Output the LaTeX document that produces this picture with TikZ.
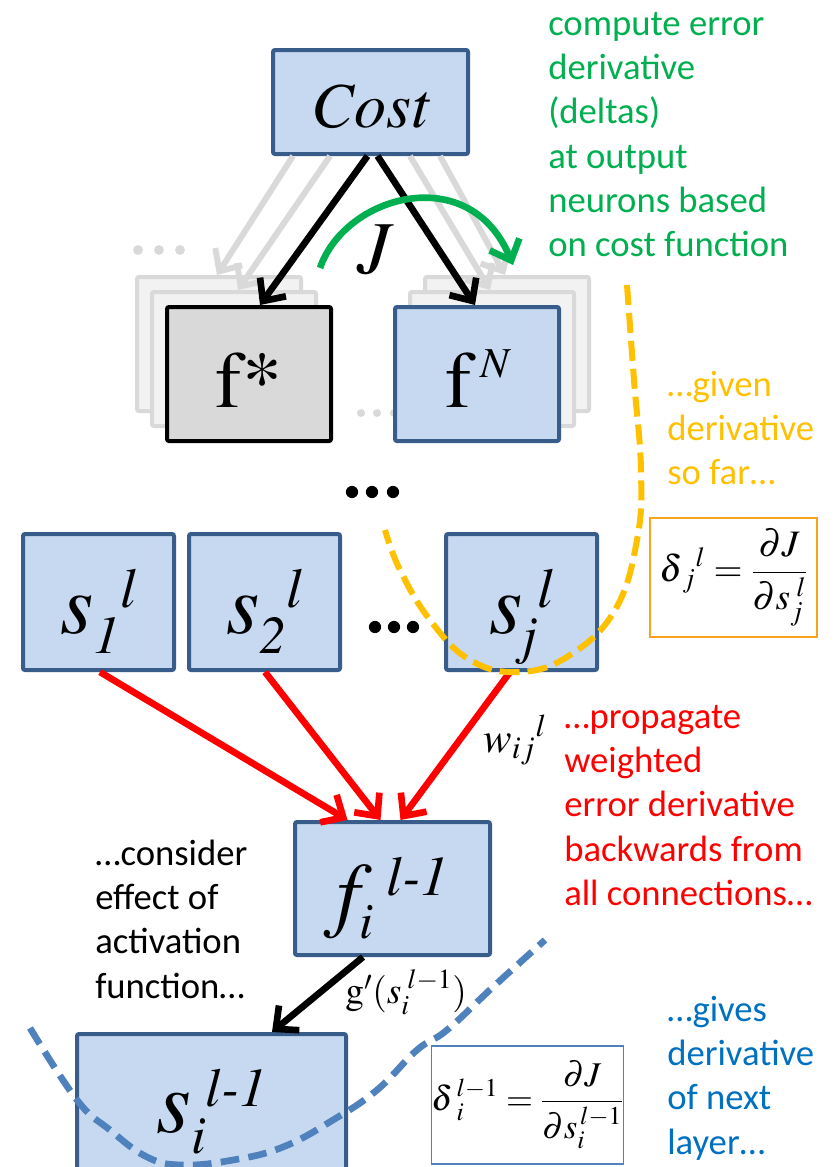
\documentclass[tikz,border=0pt]{standalone}
\usepackage{amsmath}
\usepackage{mathptmx}
\usepackage[no-math]{fontspec}
\setmainfont{Carlito}
\usetikzlibrary{positioning,arrows.meta,calc}
\definecolor{BoxFill}{HTML}{C6D9F1}
\definecolor{BoxLine}{HTML}{385D8A}
\definecolor{GhostFill}{HTML}{F2F2F2}
\definecolor{GhostLine}{HTML}{D9D9D9}
\definecolor{Leaf}{HTML}{00B050}
\definecolor{Gold}{HTML}{FFC000}
\definecolor{Amber}{HTML}{F8A21E}
\definecolor{Ocean}{HTML}{0070C0}
\definecolor{Steel}{HTML}{4F81BD}
\newcommand{\tms}{\fontencoding{OT1}\fontfamily{ptm}\selectfont}
\newcommand{\nlab}[3]{#1\raisebox{-15pt}{\fontsize{40}{40}\selectfont #2}\raisebox{19pt}{\fontsize{42}{42}\selectfont #3}}

\begin{document}
\begin{tikzpicture}[x=0.75pt,y=-0.75pt,
  >={Straight Barb[length=13pt,width=24pt]},
  box/.style={draw=BoxLine,fill=BoxFill,line width=3pt,rounded corners=1.5pt,inner sep=0pt},
  ghost/.style={draw=GhostLine,fill=GhostFill,line width=3pt,rounded corners=1.5pt,minimum width=123pt,minimum height=100.5pt},
  sbox/.style={box,minimum width=113.25pt,minimum height=102pt,text height=46.5pt,text depth=0pt,font=\tms\itshape\fontsize{64}{64}\selectfont},
  formula/.style={fill=white,inner sep=0pt,font=\fontsize{28}{28}\selectfont},
  note/.style={anchor=north west,align=left,inner sep=0pt,font=\fontsize{27.5}{33.2}\selectfont},
  grayarrow/.style={->,draw=GhostLine,line width=4.5pt},
  blackarrow/.style={->,line width=5pt},
  redarrow/.style={->,draw=red,line width=5pt},
  greenarrow/.style={->,draw=Leaf,line width=5pt},
  odash/.style={draw=Gold,line width=4.5pt,dash pattern=on 15pt off 6pt},
  bdash/.style={draw=Steel,line width=5pt,dash pattern=on 14pt off 7pt}]
  \useasboundingbox (0,0) rectangle (834,1167);

  \node[ghost] (gl1) at (219,344) {};
  \node[ghost] (gl2) at (234,359) {};
  \node[ghost] (gr1) at (507,344) {};
  \node[ghost] (gr2) at (492,359) {};
  \foreach \x in {138,159,180}{\fill[GhostLine] (\x,250) circle (3.7pt);}
  \foreach \x in {361,377,394}{\fill[GhostLine] (\x,413) circle (3pt);}

  \node[box,minimum width=146.25pt,minimum height=78pt,text height=37.5pt,text depth=0pt,
    font=\tms\itshape\fontsize{48}{48}\selectfont] (cost) at (370.5,102) {Cost};
  \draw[grayarrow] ($(cost.south)+(-77.5,0)$) -- ($(gl1.north)+(-2,0)$);
  \draw[grayarrow] ($(cost.south)+(-40.5,0)$) -- ($(gl2.north)+(4,0)$);
  \draw[grayarrow] ($(cost.south)+(39.5,0)$) -- ($(gr2.north)+(-2,0)$);
  \draw[grayarrow] ($(cost.south)+(69.5,0)$) -- ($(gr1.north)+(-2,0)$);

  \node[box,draw=black,fill=GhostLine,minimum width=123pt,minimum height=100.5pt,text height=49.5pt,text depth=0pt,
    font=\tms\fontsize{60}{60}\selectfont] (fstar) at (249,374) {f*};
  \node[box,minimum width=123pt,minimum height=100.5pt,text height=49.5pt,text depth=0pt,
    font=\tms\fontsize{60}{60}\selectfont] (fN) at (477,374) {f\hspace{6pt}\raisebox{22pt}{\fontsize{32}{32}\selectfont\itshape N}};
  \draw[blackarrow] ($(cost.south)+(-3,0)$) -- ($(fstar.north)+(11,0)$);
  \draw[blackarrow] ($(cost.south)+(7,0)$) -- ($(fN.north)+(-2,0)$);

  \coordinate (gs) at (320,268);
  \coordinate (ge) at (513,265);
  \draw[greenarrow] (gs) .. controls (345,195) and (470,160) .. (ge);
  \node[font=\tms\itshape\fontsize{56}{56}\selectfont] (J) at (374,250) {J};

  \foreach \x in {352,372,393}{\fill (\x,492) circle (4.6pt);}
  \foreach \x in {375,394,413}{\fill (\x,627) circle (4.6pt);}

  \node[sbox] (s1) at (98.5,602) {\nlab{s}{1}{l}};
  \node[sbox] (s2) at (264.5,602) {\nlab{s}{2}{l}};
  \node[sbox] (sj) at (521.5,602) {\nlab{s}{j}{l}};

  \node[box,minimum width=146.25pt,minimum height=99.75pt,text height=48.75pt,text depth=0pt,
    font=\tms\itshape\fontsize{63}{63}\selectfont] (fi) at (392.5,888.5)
    {f\raisebox{-13pt}{\fontsize{38}{38}\selectfont i}\hspace{10pt}\raisebox{19.5pt}{\fontsize{42}{42}\selectfont l-1}\hspace{18pt}};
  \node[box,minimum width=201.75pt,minimum height=108pt,text height=39pt,text depth=0pt,
    font=\tms\itshape\fontsize{67}{67}\selectfont] (si) at (211.5,1106)
    {s\raisebox{-16pt}{\fontsize{40}{40}\selectfont i}\raisebox{19pt}{\fontsize{41}{41}\selectfont l-1}};

  \draw[redarrow] ($(s1.south)+(1.5,0)$) -- ($(fi.north)+(-45,0)$);
  \draw[redarrow] ($(s2.south)+(0.5,0)$) -- ($(fi.north)+(-12,0)$);
  \draw[redarrow] ($(sj.south)+(-11.5,0)$) -- ($(fi.north)+(8,0)$)
    node[pos=0.46,anchor=west,xshift=12pt,font=\fontsize{32}{32}\selectfont] (w) {$w_{ij}{}^{l}$};
  \draw[blackarrow] ($(fi.south)+(-29.5,0)$) -- ($(si.north)+(60.5,0)$)
    node[pos=0.47,anchor=west,xshift=13pt,font=\fontsize{28}{28}\selectfont] (gp) {$\mathrm{g}'(s_i^{\;l-1})$};

  \node[formula,draw=Amber,line width=1.5pt,minimum width=125.25pt,minimum height=89.25pt] (dj) at (733.5,577.5)
    {$\displaystyle\delta{}_j{}^{l}=\frac{\partial J}{\partial s_j^{\;l}}$};
  \draw[odash] plot[smooth,tension=0.7] coordinates {(627,285) (634,380) (641,470) (637,540) (615,610) (570,655) (520,672) (470,660) (430,620) (400,570) (385,530)};

  \node[formula,draw=Steel,line width=1.1pt,minimum width=132.75pt,minimum height=88.5pt,
    font=\fontsize{26}{26}\selectfont] (di) at (527.5,1105)
    {$\displaystyle\delta\,{}_i^{l-1}=\frac{\partial J}{\partial s_i^{\,l-1}}$};
  \draw[bdash] plot[smooth,tension=0.7] coordinates {(30,1028) (77,1100) (110,1130) (147,1157) (182,1165) (233,1160) (283,1147) (333,1120) (377,1090) (417,1050) (447,1030) (493,987) (545,940)};

  \node[note,text=Leaf] (tgreen) at (548,4) {\strut compute error\\derivative\\(deltas)\\at output\\neurons based\\on cost function};
  \node[note,text=Gold] (tgold) at (667,365) {\strut …given\\derivative\\so far…};
  \node[note,text=red] (tred) at (564,697) {\strut …propagate\\weighted\\error derivative\\backwards from\\all connections…};
  \node[note] (tblack) at (95,834) {\strut …consider\\effect of\\activation\\function…};
  \node[note,text=Ocean] (tblue) at (667,990) {\strut …gives\\derivative\\of next\\layer…};
\end{tikzpicture}
\end{document}
